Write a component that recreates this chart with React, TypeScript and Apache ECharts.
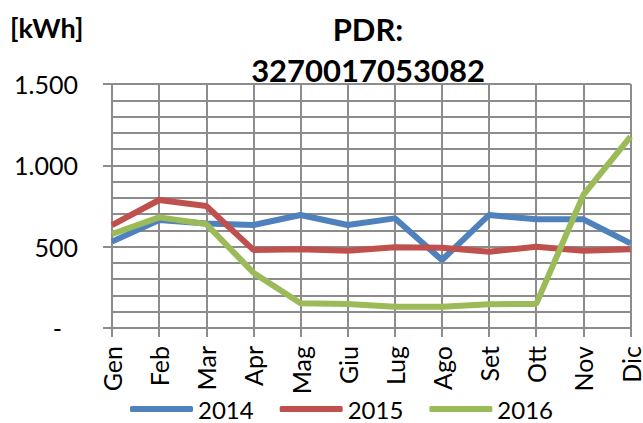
import React, { useEffect, useRef } from "react";
import * as echarts from "echarts";

const months = ["Gen", "Feb", "Mar", "Apr", "Mag", "Giu", "Lug", "Ago", "Set", "Ott", "Nov", "Dic"];
const s2014 = [531, 664, 643, 633, 695, 633, 674, 418, 695, 668, 668, 520];
const s2015 = [633, 787, 750, 480, 484, 475, 496, 494, 469, 500, 475, 484];
const s2016 = [578, 680, 639, 340, 152, 148, 131, 131, 146, 148, 818, 1176];
const seriesNames = ["2014", "2015", "2016"];
const colors = ["#4F81BD", "#C0504D", "#9BBB59"];

const FONT = "Lato";

export default function App() {
  const ref = useRef<HTMLDivElement>(null);
  useEffect(() => {
    if (!ref.current) return;
    const chart = echarts.init(ref.current, null, { renderer: "svg" });
    const fmt = (v: number) => {
      if (v === 0) return "{z|-}";
      return String(v).replace(/\B(?=(\d{3})+(?!\d))/g, ".");
    };
    const data = [s2014, s2015, s2016];
    chart.setOption({
      animation: false,
      backgroundColor: "#ffffff",
      color: colors,
      title: {
        text: "PDR:\n3270017053082",
        left: 363,
        top: 3,
        textAlign: "center",
        textStyle: {
          fontFamily: FONT,
          fontSize: 31,
          fontWeight: "bold",
          color: "#000",
          lineHeight: 41,
        },
      },
      graphic: [
        {
          type: "text",
          left: 10,
          top: 14,
          style: {
            text: "[kWh]",
            font: `bold 27px ${FONT}`,
            fill: "#000",
          },
        },
      ],
      legend: {
        data: seriesNames,
        left: 130,
        top: 396,
        icon: "roundRect",
        itemWidth: 63,
        itemHeight: 6,
        itemGap: 26,
        padding: 0,
        textStyle: {
          fontFamily: FONT,
          fontSize: 24,
          lineHeight: 26,
          color: "#000",
        },
      },
      grid: {
        left: 112,
        right: 10,
        top: 84,
        bottom: 95,
        containLabel: false,
      },
      xAxis: {
        type: "category",
        data: months,
        boundaryGap: false,
        axisLine: { show: true, lineStyle: { color: "#8c8c8c", width: 2 } },
        axisTick: { show: true, length: 9, lineStyle: { color: "#8c8c8c", width: 2 } },
        splitLine: { show: true, lineStyle: { color: "#8c8c8c", width: 2 } },
        axisLabel: {
          rotate: 90,
          margin: 18,
          fontFamily: FONT,
          fontSize: 25,
          color: "#000",
          interval: 0,
        },
      },
      yAxis: {
        type: "value",
        min: 0,
        max: 1500,
        interval: 500,
        axisLine: { show: true, lineStyle: { color: "#8c8c8c", width: 2 } },
        axisTick: { show: true, length: 9, lineStyle: { color: "#8c8c8c", width: 2 } },
        splitLine: { show: true, lineStyle: { color: "#8c8c8c", width: 2 } },
        minorTick: { show: false, splitNumber: 5 },
        minorSplitLine: { show: true, lineStyle: { color: "#8c8c8c", width: 2 } },
        axisLabel: {
          margin: 34,
          fontFamily: FONT,
          fontSize: 25,
          color: "#000",
          formatter: fmt,
          rich: {
            z: { fontFamily: FONT, fontSize: 25, color: "#000", padding: [0, 16, 0, 0] },
          },
        },
      },
      series: data.map((d, i) => ({
        name: seriesNames[i],
        type: "line",
        data: d,
        showSymbol: false,
        symbol: "none",
        lineStyle: { width: 6, color: colors[i] },
        itemStyle: { color: colors[i] },
        z: 3 + i,
      })),
    });
    return () => chart.dispose();
  }, []);
  return <div ref={ref} style={{ width: 643, height: 423, position: "absolute", left: 0, top: 0 }} />;
}
